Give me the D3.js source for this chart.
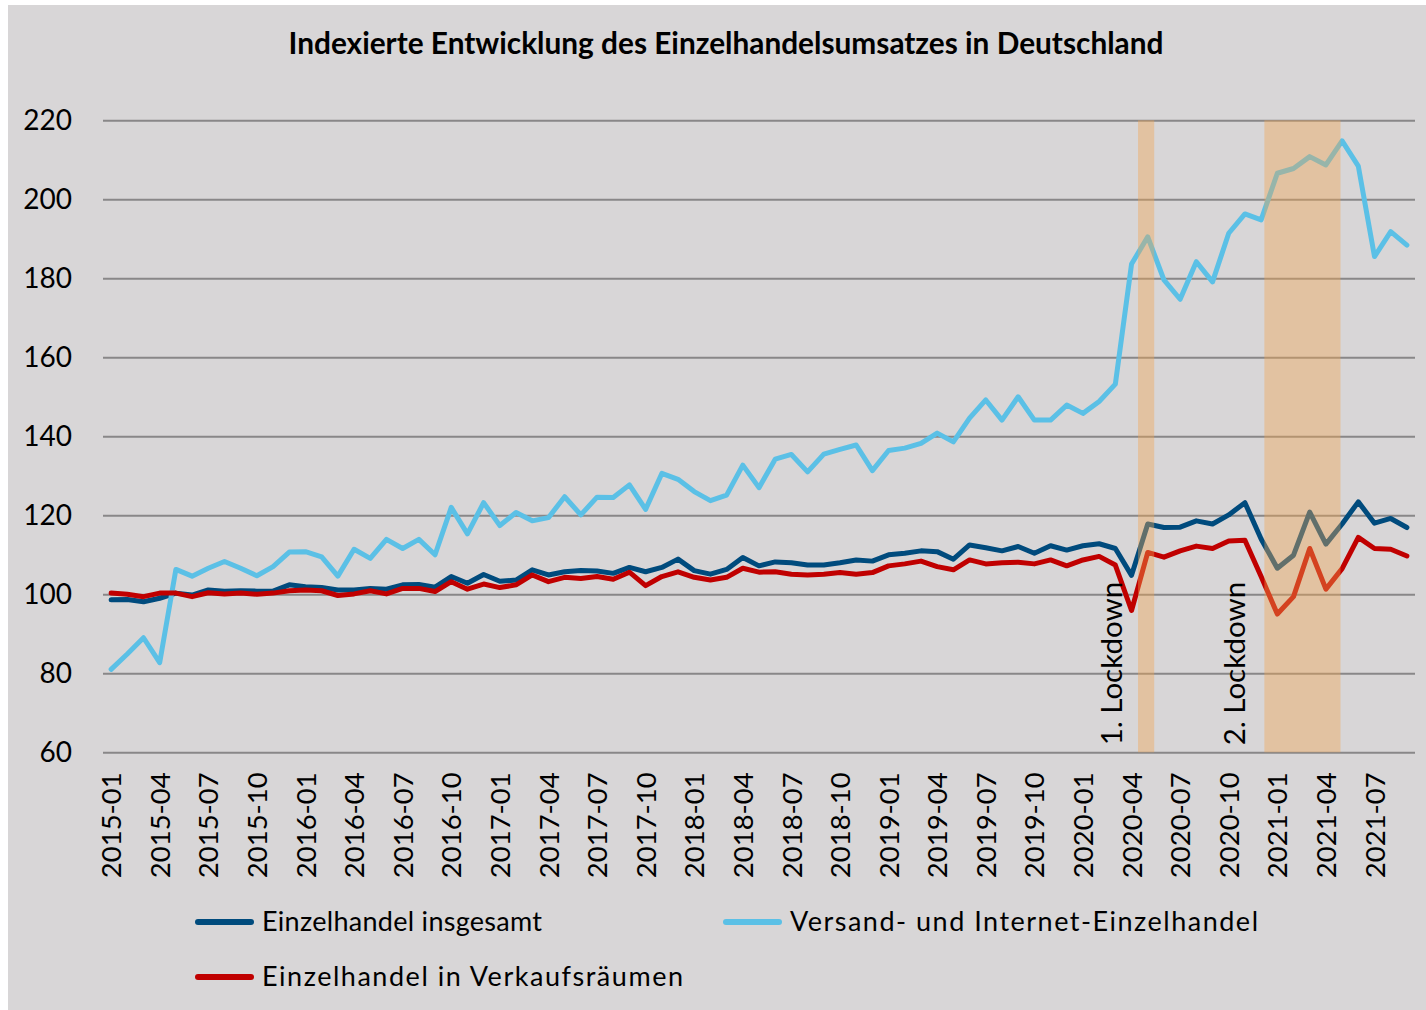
<!DOCTYPE html>
<html>
<head>
<meta charset="utf-8">
<script src="https://cdn.jsdelivr.net/npm/d3@7"></script>
<style>
  html, body { margin: 0; padding: 0; background: #ffffff; }
  svg { display: block; font-family: Lato, "Open Sans", sans-serif; }
</style>
</head>
<body>
<div id="chart"></div>
<script>
// Monate (Kategorien)
const months = [
  '2015-01','2015-02','2015-03','2015-04','2015-05','2015-06','2015-07','2015-08','2015-09','2015-10','2015-11','2015-12',
  '2016-01','2016-02','2016-03','2016-04','2016-05','2016-06','2016-07','2016-08','2016-09','2016-10','2016-11','2016-12',
  '2017-01','2017-02','2017-03','2017-04','2017-05','2017-06','2017-07','2017-08','2017-09','2017-10','2017-11','2017-12',
  '2018-01','2018-02','2018-03','2018-04','2018-05','2018-06','2018-07','2018-08','2018-09','2018-10','2018-11','2018-12',
  '2019-01','2019-02','2019-03','2019-04','2019-05','2019-06','2019-07','2019-08','2019-09','2019-10','2019-11','2019-12',
  '2020-01','2020-02','2020-03','2020-04','2020-05','2020-06','2020-07','2020-08','2020-09','2020-10','2020-11','2020-12',
  '2021-01','2021-02','2021-03','2021-04','2021-05','2021-06','2021-07','2021-08','2021-09'
];

// Achsenbeschriftung (jedes Quartal)
const tickLabels = [
  '2015-01','2015-04','2015-07','2015-10','2016-01','2016-04','2016-07','2016-10',
  '2017-01','2017-04','2017-07','2017-10','2018-01','2018-04','2018-07','2018-10',
  '2019-01','2019-04','2019-07','2019-10','2020-01','2020-04','2020-07','2020-10',
  '2021-01','2021-04','2021-07'
];
const yTicks = [60, 80, 100, 120, 140, 160, 180, 200, 220];

// Serien
const insgesamt = [
  98.6, 98.7, 98.1, 99.0, 100.3, 99.8, 101.1, 100.8, 100.9, 100.8, 100.8, 102.4,
  101.9, 101.7, 101.1, 101.1, 101.5, 101.3, 102.4, 102.5, 101.8, 104.5, 102.8, 105.0,
  103.3, 103.6, 106.2, 104.9, 105.7, 106.0, 105.9, 105.3, 106.8, 105.7, 106.8, 108.9,
  106.0, 105.1, 106.3, 109.3, 107.2, 108.2, 108.0, 107.4, 107.4, 108.0, 108.7, 108.4,
  110.0, 110.4, 111.0, 110.8, 108.9, 112.5, 111.8, 111.0, 112.1, 110.4, 112.3, 111.2,
  112.3, 112.8, 111.6, 104.8, 117.8, 116.9, 117.0, 118.6, 117.8, 120.1, 123.2, 114.0,
  106.6, 109.9, 120.8, 112.7, 117.8, 123.4, 118.0, 119.2, 116.9
];
const versand = [
  81.0, 84.9, 89.0, 82.7, 106.3, 104.6, 106.6, 108.3, 106.6, 104.7, 107.0, 110.7,
  110.8, 109.5, 104.6, 111.4, 109.1, 113.9, 111.6, 113.9, 110.0, 122.0, 115.3, 123.2,
  117.4, 120.7, 118.6, 119.4, 124.7, 120.1, 124.6, 124.5, 127.7, 121.5, 130.6, 129.1,
  126.0, 123.7, 125.1, 132.7, 127.0, 134.2, 135.4, 131.0, 135.5, 136.7, 137.8, 131.3,
  136.4, 137.0, 138.2, 140.8, 138.6, 144.6, 149.2, 144.1, 150.0, 144.1, 144.1, 147.9,
  145.8, 148.8, 153.2, 183.6, 190.5, 179.6, 174.7, 184.2, 179.1, 191.4, 196.3, 194.8,
  206.6, 207.8, 210.8, 208.7, 214.8, 208.4, 185.5, 191.8, 188.4
];
const verkaufsraeume = [
  100.3, 100.0, 99.4, 100.3, 100.3, 99.4, 100.4, 100.1, 100.3, 100.0, 100.3, 100.9,
  101.1, 100.9, 99.7, 100.1, 100.9, 100.1, 101.5, 101.5, 100.7, 103.2, 101.3, 102.6,
  101.7, 102.4, 104.9, 103.2, 104.3, 104.0, 104.5, 103.8, 105.6, 102.2, 104.5, 105.7,
  104.3, 103.6, 104.3, 106.6, 105.6, 105.7, 105.1, 104.9, 105.1, 105.5, 105.1, 105.5,
  107.2, 107.7, 108.4, 107.0, 106.2, 108.7, 107.7, 108.0, 108.1, 107.7, 108.7, 107.2,
  108.7, 109.6, 107.4, 95.9, 110.6, 109.4, 111.0, 112.2, 111.6, 113.5, 113.7, 104.5,
  95.0, 99.4, 111.6, 101.3, 106.5, 114.4, 111.6, 111.4, 109.7
];

// Lockdown-Zeiträume (Monatsindex, Anfang/Ende)
const lockdownStart = [63.4, 71.2];
const lockdownEnd = [64.4, 75.9];
const lockdownLabels = ['1. Lockdown', '2. Lockdown'];
const lockdownLabelAt = [62.4, 70.0];

const seriesNames = ['Einzelhandel insgesamt', 'Versand- und Internet-Einzelhandel', 'Einzelhandel in Verkaufsräumen'];
const seriesColors = ['#004b7d', '#5bc0e6', '#c00000'];
const seriesValues = [insgesamt, versand, verkaufsraeume];

const W = 1426, H = 1010;
const plot = { left: 103, right: 1415, top: 120.3, bottom: 752.3 };

const svg = d3.select('#chart').append('svg')
  .attr('width', W)
  .attr('height', H);

// Hintergrund
svg.append('rect')
  .attr('x', 8).attr('y', 5)
  .attr('width', W - 8).attr('height', H - 5)
  .attr('fill', '#d8d6d7');

// Titel
svg.append('text')
  .attr('x', 726)
  .attr('y', 54)
  .attr('text-anchor', 'middle')
  .attr('font-size', 29.8)
  .attr('font-weight', 'bold')
  .attr('fill', '#000')
  .text('Indexierte Entwicklung des Einzelhandelsumsatzes in Deutschland');

const x = d3.scaleLinear()
  .domain([-0.5, months.length - 0.5])
  .range([plot.left, plot.right]);

const y = d3.scaleLinear()
  .domain([60, 220])
  .range([plot.bottom, plot.top]);

// Y-Achse mit Gitterlinien
const yAxis = svg.append('g')
  .attr('transform', `translate(${plot.left},0)`)
  .call(d3.axisLeft(y)
    .tickValues(yTicks)
    .tickSize(-(plot.right - plot.left))
    .tickPadding(31));
yAxis.select('.domain').remove();
yAxis.selectAll('.tick line')
  .attr('stroke', '#898788')
  .attr('stroke-width', 2);
yAxis.selectAll('.tick text')
  .attr('font-size', 28)
  .attr('font-family', 'Lato, sans-serif')
  .attr('fill', '#000');

// X-Achse (Monatsbeschriftung)
const xAxis = svg.append('g')
  .attr('transform', `translate(0,${plot.bottom})`)
  .call(d3.axisBottom(x)
    .tickValues(tickLabels.map(m => months.indexOf(m)))
    .tickFormat(i => months[i])
    .tickSize(0));
xAxis.select('.domain').remove();
xAxis.selectAll('.tick text')
  .attr('font-size', 27.5)
  .attr('font-family', 'Lato, sans-serif')
  .attr('fill', '#000')
  .attr('text-anchor', 'end')
  .attr('transform', 'rotate(-90)')
  .attr('x', -20)
  .attr('y', 0)
  .attr('dy', '0.35em');

// Linien
const line = d3.line()
  .x((d, i) => x(i))
  .y(d => y(d));

seriesValues.forEach((vals, k) => {
  svg.append('path')
    .datum(vals)
    .attr('fill', 'none')
    .attr('stroke', seriesColors[k])
    .attr('stroke-width', 5)
    .attr('stroke-linejoin', 'round')
    .attr('stroke-linecap', 'round')
    .attr('d', line);
});

// Lockdown-Markierungen (halbtransparent über den Linien)
lockdownStart.forEach((s, k) => {
  svg.append('rect')
    .attr('x', x(s))
    .attr('y', y(220))
    .attr('width', x(lockdownEnd[k]) - x(s))
    .attr('height', y(60) - y(220))
    .attr('fill', 'rgb(242,165,80)')
    .attr('fill-opacity', 0.4);

  svg.append('text')
    .attr('transform', `translate(${x(lockdownLabelAt[k])},${y(60) - 7}) rotate(-90)`)
    .attr('font-size', 29.5)
    .attr('fill', '#000')
    .text(lockdownLabels[k]);
});

// Legende
const legendPos = [[198, 922], [726, 922], [198, 977]];
const legendTextLen = [280, 468, 421];
seriesNames.forEach((name, k) => {
  const [lx, ly] = legendPos[k];
  svg.append('line')
    .attr('x1', lx).attr('x2', lx + 53)
    .attr('y1', ly).attr('y2', ly)
    .attr('stroke', seriesColors[k])
    .attr('stroke-width', 6)
    .attr('stroke-linecap', 'round');
  svg.append('text')
    .attr('x', lx + 64)
    .attr('y', ly)
    .attr('dy', '0.35em')
    .attr('font-size', 27)
    .attr('textLength', legendTextLen[k])
    .attr('lengthAdjust', 'spacing')
    .attr('fill', '#000')
    .text(name);
});
</script>
</body>
</html>
